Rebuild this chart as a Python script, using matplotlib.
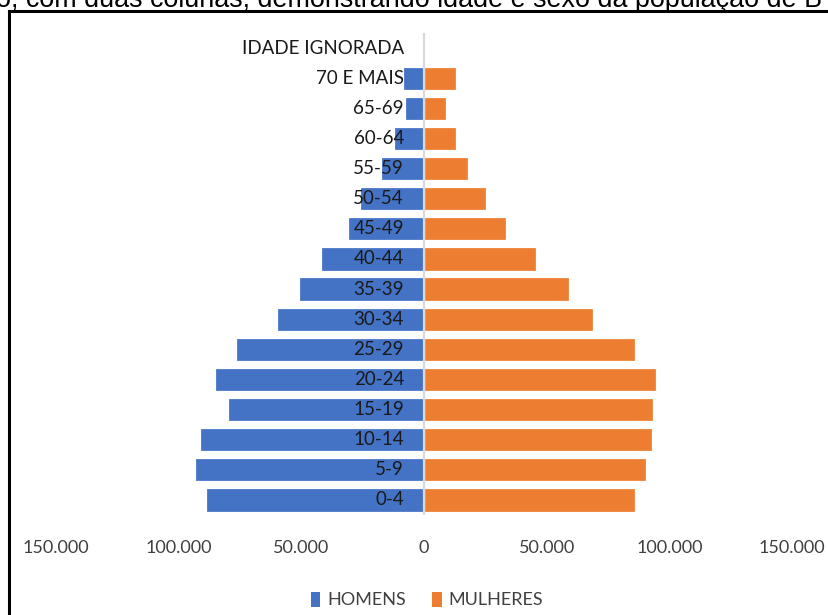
import matplotlib
matplotlib.use("Agg")
import matplotlib.pyplot as plt
import matplotlib.transforms as mtransforms
from matplotlib.patches import Patch
from matplotlib.lines import Line2D

categories = ["0-4", "5-9", "10-14", "15-19", "20-24", "25-29", "30-34", "35-39",
              "40-44", "45-49", "50-54", "55-59", "60-64", "65-69", "70 E MAIS",
              "IDADE IGNORADA"]
homens = [88700, 93300, 91500, 80000, 85000, 76600, 60000, 51000,
          42000, 31000, 26000, 17500, 12200, 7700, 8600, 0]
mulheres = [86000, 90300, 93000, 93400, 94400, 86000, 69000, 59000,
            45600, 33400, 25300, 17900, 13000, 9000, 13000, 0]
xticks = [-150000, -100000, -50000, 0, 50000, 100000, 150000]
xticklabels = ["150.000", "100.000", "50.000", "0", "50.000", "100.000", "150.000"]
header = "o, com duas colunas, demonstrando idade e sexo da população de B"

W, H = 829, 615
fig = plt.figure(figsize=(W / 100, H / 100), dpi=100)

FONT = ["Liberation Sans Narrow", "Lato", "DejaVu Sans"]

# axes placement (pixels)
x_left, x_right = 56, 792
y_top, y_bot = 33, 515
ax = fig.add_axes([x_left / W, 1 - y_bot / H, (x_right - x_left) / W, (y_bot - y_top) / H])

blue = "#4472C4"
orange = "#ED7D31"
ypos = list(range(len(categories)))
ax.barh(ypos, [-v for v in homens], height=0.77, color=blue, edgecolor="white",
        linewidth=0.9, zorder=2)
ax.barh(ypos, mulheres, height=0.77, color=orange, edgecolor="white",
        linewidth=0.9, zorder=2)
ax.axvline(0, color="#d9d9d9", lw=1.6, zorder=3)

ax.set_xlim(-150000, 150000)
ax.set_ylim(-0.5, len(categories) - 0.5)
for s in ax.spines.values():
    s.set_visible(False)
ax.set_yticks([])
ax.set_xticks(xticks)
ax.set_xticklabels(xticklabels, fontsize=13, color="#404040", family=FONT)
ax.tick_params(axis="x", length=0, pad=18)

trans = mtransforms.offset_copy(ax.transData, fig=fig, x=-20, y=0, units="dots")
for i, c in enumerate(categories):
    ax.text(0, i, c, transform=trans, ha="right", va="center", fontsize=13.5,
            color="#1a1a1a", family=FONT, zorder=4)

handles = [Patch(facecolor=blue, edgecolor="none"), Patch(facecolor=orange, edgecolor="none")]
fig.legend(handles, ["HOMENS", "MULHERES"], loc="center", bbox_to_anchor=(427 / W, 1 - 600 / H),
           ncol=2, frameon=False, handlelength=0.55, handleheight=0.9, handletextpad=0.4,
           columnspacing=1.4, prop={"family": FONT, "size": 13}, labelcolor="#404040")

# outer border (screenshot frame)
fig.add_artist(Line2D([9 / W, 9 / W], [0, 1 - 11 / H], transform=fig.transFigure,
                      color="black", lw=2.2))
fig.add_artist(Line2D([9 / W, 1], [1 - 11 / H, 1 - 11 / H], transform=fig.transFigure,
                      color="black", lw=2.2))

# cut-off header text
fig.text(-4 / W, 1 - 7 / H, header, ha="left", va="baseline", fontsize=19.4,
         family=["Liberation Sans", "DejaVu Sans"], color="black")

fig.savefig("out.png", dpi=100)
